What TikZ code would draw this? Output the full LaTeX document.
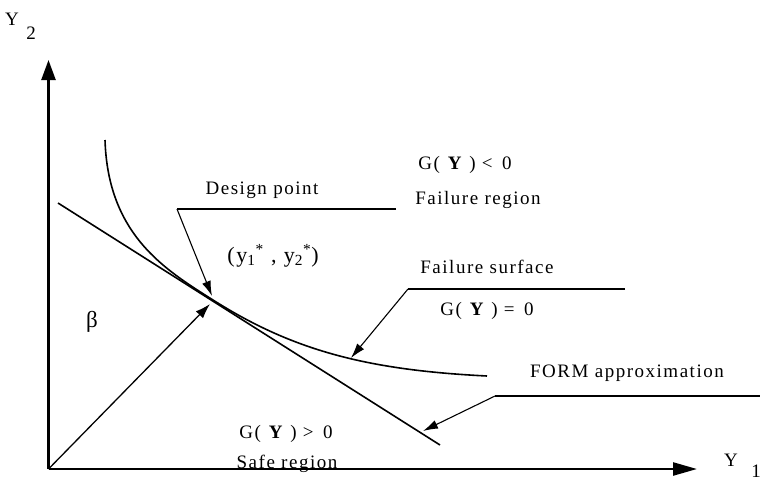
\documentclass[tikz,border=0pt]{standalone}
\usepackage{fontspec}
\setmainfont{Liberation Serif}[LetterSpace=8]
\usetikzlibrary{arrows.meta}
\begin{document}
\begin{tikzpicture}[x=1pt,y=-1pt,
  axis/.style={line width=2.4pt,-{Triangle[length=20pt,width=14pt]}},
  curveline/.style={line width=1.6pt},
  leader/.style={line width=1.1pt},
  pointer/.style={line width=1.1pt,-{Latex[length=15pt,width=9pt]}},
  lbl/.style={inner sep=0pt,font=\fontsize{19}{21}\selectfont},
  axlbl/.style={inner sep=0pt,font=\fontsize{19}{21}\selectfont}]
\useasboundingbox (0,0) rectangle (760,480);
% axes
\coordinate (O) at (48.5,469);
\coordinate (ytip) at (48.5,60);
\coordinate (xtip) at (697,469);
\draw[axis] (O) -- (ytip);
\draw[axis,-{Triangle[length=24pt,width=13pt]}] (O) -- (xtip);
\node[axlbl] (Y2) at (12,19) {Y};
\node[axlbl] (Y2s) at (31,33) {2};
\node[axlbl] (Y1) at (731,460) {Y};
\node[axlbl] (Y1s) at (756,471) {1};
% failure surface, tangent to its linear (FORM) approximation at the design point
\coordinate (c0) at (105,140);
\coordinate (ct) at (213,300);
\coordinate (c1) at (487,376);
\draw[curveline] (c0) .. controls (108,235) and (165,269.6) .. (ct)
  .. controls (293,350.6) and (367,370) .. (c1);
\coordinate (fa) at (58,203);
\coordinate (fb) at (440,445);
\draw[curveline] (fa) -- (fb);
% reliability index
\coordinate (dp) at (210,304);
\draw[line width=1.3pt,-{Latex[length=15pt,width=10pt]}] (O) -- (dp);
\node[lbl,font=\fontsize{23}{25}\selectfont] (beta) at (92,322) {β};
% design point
\coordinate (d0) at (177,209);
\coordinate (d1) at (396,209);
\coordinate (dtip) at (212,296);
\draw[leader] (d1) -- (d0);
\draw[pointer] (d0) -- (dtip);
\node[lbl] (design) at (262,190) {Design point};
\node[lbl,font=\fontsize{22}{24}\selectfont] (ystar) at (273,256)
  {(y\textsubscript{1}\textsuperscript{*} , y\textsubscript{2}\textsuperscript{*})};
% failure region
\node[lbl] (gneg) at (465,165) {G( \textbf{Y} ) <\, 0};
\node[lbl] (fail) at (478,200) {Failure region};
% failure surface
\node[lbl] (fsurf) at (487,267) {Failure surface};
\coordinate (s0) at (408,289);
\coordinate (s1) at (625,289);
\coordinate (stip) at (351,358);
\draw[leader] (s1) -- (s0);
\draw[pointer] (s0) -- (stip);
\node[lbl] (gzero) at (487,311) {G( \textbf{Y} ) =\, 0};
% FORM approximation
\node[lbl] (form) at (627,373) {FORM approximation};
\coordinate (r0) at (495,396);
\coordinate (r1) at (760,396);
\coordinate (rtip) at (423,431);
\draw[leader] (r1) -- (r0);
\draw[pointer] (r0) -- (rtip);
% safe region
\node[lbl] (gpos) at (286,434) {G( \textbf{Y} ) >\, 0};
\node[lbl] (safe) at (287,464) {Safe region};
\end{tikzpicture}
\end{document}
